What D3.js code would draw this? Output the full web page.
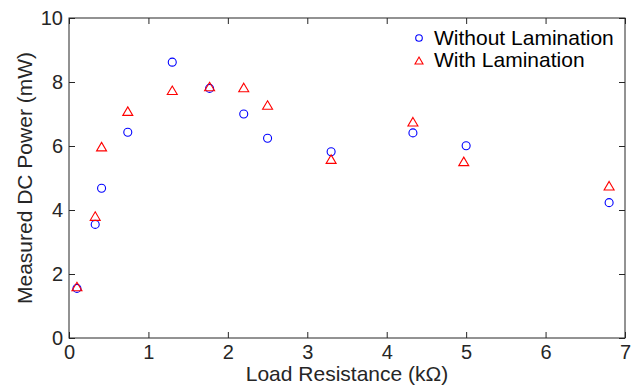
<!DOCTYPE html>
<html>
<head>
<meta charset="utf-8">
<script src="https://cdn.jsdelivr.net/npm/d3@7"></script>
<style>
  html, body { margin: 0; padding: 0; background: #fff; }
  svg { display: block; font-family: "Liberation Sans", Arial, Helvetica, sans-serif; }
</style>
</head>
<body>
<svg id="chart" width="638" height="388"></svg>
<script>
// ---- data ----
const resistanceWithout = [0.1, 0.33, 0.41, 0.74, 1.3, 1.77, 2.2, 2.5, 3.3, 4.33, 5.0, 6.8];
const powerWithout      = [1.55, 3.55, 4.68, 6.43, 8.62, 7.80, 7.0, 6.24, 5.82, 6.41, 6.01, 4.23];
const resistanceWith    = [0.1, 0.33, 0.41, 0.74, 1.3, 1.77, 2.2, 2.5, 3.3, 4.33, 4.97, 6.8];
const powerWith         = [1.61, 3.81, 5.98, 7.09, 7.74, 7.86, 7.83, 7.28, 5.59, 6.76, 5.52, 4.76];
const xTicks = [0, 1, 2, 3, 4, 5, 6, 7];
const yTicks = [0, 2, 4, 6, 8, 10];
const seriesNames = ["Without Lamination", "With Lamination"];
const xLabel = "Load Resistance (k\u03A9)";
const yLabel = "Measured DC Power (mW)";

// ---- layout ----
const W = 638, H = 388;
const m = { left: 69, right: 13, top: 18, bottom: 50 };
const pw = W - m.left - m.right, ph = H - m.top - m.bottom;
const axisColor = "#262626";
const blue = "#0000ff", red = "#ff0000";

const svg = d3.select("#chart");
const g = svg.append("g").attr("transform", `translate(${m.left},${m.top})`);

const x = d3.scaleLinear().domain([0, 7]).range([0, pw]);
const y = d3.scaleLinear().domain([0, 10]).range([ph, 0]);

function styleAxis(sel) {
  sel.select(".domain").remove();
  sel.selectAll(".tick line").attr("stroke", axisColor).attr("stroke-width", 1);
  sel.selectAll(".tick text").attr("fill", axisColor).style("font-size", "20px");
}

// bottom axis
g.append("g").attr("transform", `translate(0,${ph})`)
  .call(d3.axisBottom(x).tickValues(xTicks).tickFormat(d3.format("d")).tickSizeInner(-6).tickSizeOuter(0).tickPadding(7))
  .call(styleAxis);
// top axis (ticks only)
g.append("g")
  .call(d3.axisTop(x).tickValues(xTicks).tickFormat("").tickSizeInner(-6).tickSizeOuter(0))
  .call(styleAxis);
// left axis
g.append("g")
  .call(d3.axisLeft(y).tickValues(yTicks).tickFormat(d3.format("d")).tickSizeInner(-6).tickSizeOuter(0).tickPadding(6))
  .call(styleAxis);
// right axis (ticks only)
g.append("g").attr("transform", `translate(${pw},0)`)
  .call(d3.axisRight(y).tickValues(yTicks).tickFormat("").tickSizeInner(-6).tickSizeOuter(0))
  .call(styleAxis);

// box
g.append("rect").attr("x", 0).attr("y", 0).attr("width", pw).attr("height", ph)
  .attr("fill", "none").attr("stroke", axisColor).attr("stroke-width", 1);

// axis labels
svg.append("text")
  .attr("x", m.left + pw / 2).attr("y", 381)
  .attr("text-anchor", "middle").attr("fill", axisColor)
  .style("font-size", "21px").text(xLabel);
svg.append("text")
  .attr("transform", `translate(32,${m.top + ph / 2}) rotate(-90)`)
  .attr("text-anchor", "middle").attr("fill", axisColor)
  .style("font-size", "21px").text(yLabel);

// markers
const triPath = (w, h) => `M0,${-h / 2}L${w / 2},${h / 2}L${-w / 2},${h / 2}Z`;

g.append("g").selectAll("circle")
  .data(d3.zip(resistanceWithout, powerWithout))
  .join("circle")
  .attr("cx", d => x(d[0])).attr("cy", d => y(d[1])).attr("r", 4)
  .attr("fill", "none").attr("stroke", blue).attr("stroke-width", 1.1);

g.append("g").selectAll("path")
  .data(d3.zip(resistanceWith, powerWith))
  .join("path")
  .attr("transform", d => `translate(${x(d[0])},${y(d[1])})`)
  .attr("d", triPath(10, 8.5))
  .attr("fill", "none").attr("stroke", red).attr("stroke-width", 1.1);

// legend
const leg = svg.append("g");
leg.append("circle").attr("cx", 419).attr("cy", 38).attr("r", 3.3)
  .attr("fill", "none").attr("stroke", blue).attr("stroke-width", 1.1);
leg.append("path").attr("transform", "translate(419,60.5)").attr("d", triPath(8, 7))
  .attr("fill", "none").attr("stroke", red).attr("stroke-width", 1.1);
leg.append("text").attr("x", 434).attr("y", 45).style("font-size", "21px").attr("fill", "#000").text(seriesNames[0]);
leg.append("text").attr("x", 434).attr("y", 66.5).style("font-size", "21px").attr("fill", "#000").text(seriesNames[1]);
</script>
</body>
</html>
